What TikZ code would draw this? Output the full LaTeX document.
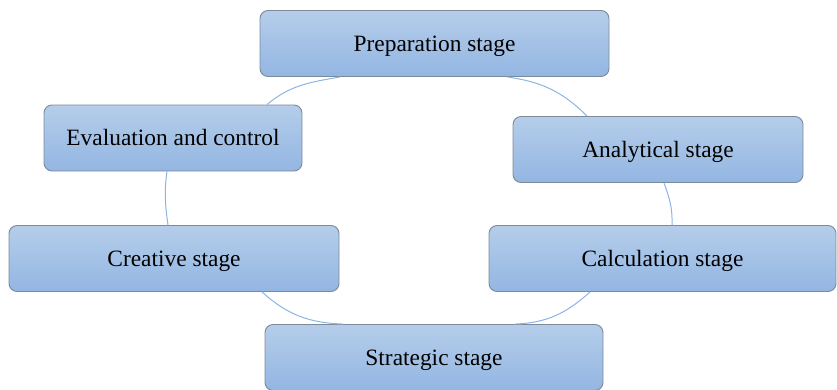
\documentclass[tikz,border=0pt]{standalone}
\usepackage{fontspec}
\setmainfont{Liberation Serif}
\usepackage{xcolor}
\usetikzlibrary{calc}

\begin{document}
\begin{tikzpicture}[x=1pt,y=1pt,
  stagebox/.style={draw=boxline,line width=0.9pt,rounded corners=8pt,
    top color=boxtop,bottom color=boxbottom,minimum height=66pt,
    inner sep=0pt,text height=20.5pt,text depth=5pt,
    font=\fontsize{23.4}{26}\selectfont},
  link/.style={draw=ringline,line width=1pt}]
\definecolor{boxtop}{HTML}{B5CDEA}
\definecolor{boxbottom}{HTML}{93B6E2}
\definecolor{boxline}{HTML}{7D8A99}
\definecolor{ringline}{HTML}{8BB5E3}
\useasboundingbox (0,0) rectangle (837,389);
  \foreach \nm/\x/\y/\w/\txt in {prep/434.5/345.5/349/Preparation stage,
    eval/173/251/258/Evaluation and control,
    anal/658/239.5/290/Analytical stage,
    crea/174/130.5/330/Creative stage,
    calc/662.5/130.5/347/Calculation stage,
    strat/434/31.5/338/Strategic stage}
  {  \node [stagebox,minimum width=\w pt] (\nm) at (\x,\y) {\txt};}
% the cycle, box to box
\draw [link] ($(prep.south)+(-94.5,0)$) to[out=190,in=40] ($(eval.north)+(94,0)$);
\draw [link] ($(eval.south)+(-6,0)$) to[out=262,in=98] ($(crea.north)+(-6,0)$);
\draw [link] ($(crea.south)+(88,0)$) to[out=318,in=178] ($(strat.north)+(-91,0)$);
\draw [link] ($(strat.north)+(81,0)$) to[out=2,in=222] ($(calc.south)+(-72.5,0)$);
\draw [link] ($(calc.north)+(9.5,0)$) to[out=88,in=290] ($(anal.south)+(6,0)$);
\draw [link] ($(anal.north)+(-71,0)$) to[out=135,in=-8] ($(prep.south)+(72.5,0)$);
\end{tikzpicture}
\end{document}
